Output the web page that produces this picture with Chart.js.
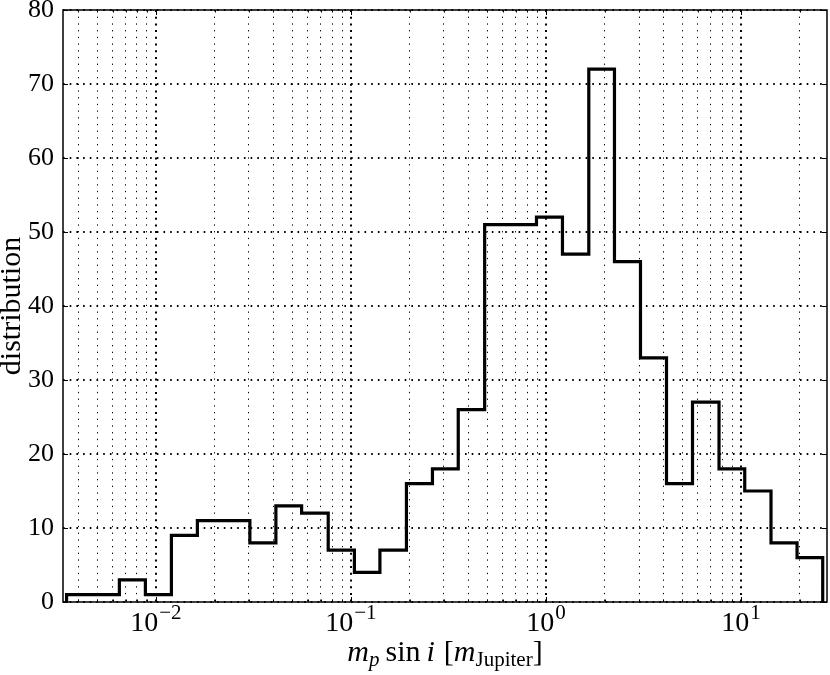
<!DOCTYPE html>
<html>
<head>
<meta charset="utf-8">
<script src="https://cdn.jsdelivr.net/npm/chart.js@4.4.1/dist/chart.umd.min.js"></script>
<style>
  body { margin: 0; background: #fff; }
  #wrap { width: 830px; height: 675px; }
</style>
</head>
<body>
<div id="wrap"><canvas id="grafica" width="830" height="675"></canvas></div>
<script>
// Bin edges of the histogram (m_p sin i, in Jupiter masses)
const binEdges = [0.003484, 0.004741, 0.006498, 0.008834, 0.01201, 0.01632, 0.02227, 0.03033,
    0.04124, 0.05587, 0.07648, 0.1042, 0.1408, 0.1926, 0.2618, 0.3550, 0.4849, 0.6576,
    0.8940, 1.215, 1.658, 2.245, 3.052, 4.150, 5.640, 7.714, 10.45, 14.25, 19.38, 26.24];

// Counts per bin
const counts = [1, 1, 3, 1, 9, 11, 11, 8, 13, 12, 7, 4, 7, 16, 18, 26, 51, 51,
    52, 47, 72, 46, 33, 16, 27, 18, 15, 8, 6];

// Axis limits and tick labels
const xMin = 0.00334;
const xMax = 27.6;
const decadeExps = [-2, -1, 0, 1];
const yTicks = [0, 10, 20, 30, 40, 50, 60, 70, 80];

const serif = '"Liberation Serif", "Times New Roman", serif';

function isDecade(v) {
    const l = Math.log10(v);
    return Math.abs(l - Math.round(l)) < 1e-6;
}

// Points for a stepped line: value holds until the next edge
function stepPoints() {
    const pts = [{ x: binEdges[0], y: 0 }];
    counts.forEach((c, i) => pts.push({ x: binEdges[i], y: c }));
    pts.push({ x: binEdges[binEdges.length - 1], y: 0 });
    return pts;
}

// Frame, inward ticks, x tick labels and x title
const marcPlugin = {
    id: 'marc',
    afterDraw(chart) {
        const { ctx, chartArea: a, scales } = chart;
        ctx.save();
        ctx.strokeStyle = '#000';
        ctx.fillStyle = '#000';

        ctx.lineWidth = 1;
        ctx.beginPath();
        scales.y.ticks.forEach(t => {
            const y = Math.round(scales.y.getPixelForValue(t.value)) + 0.5;
            ctx.moveTo(a.left, y); ctx.lineTo(a.left + 5, y);
            ctx.moveTo(a.right, y); ctx.lineTo(a.right - 5, y);
        });
        scales.x.ticks.forEach(t => {
            const x = Math.round(scales.x.getPixelForValue(t.value)) + 0.5;
            const len = isDecade(t.value) ? 5 : 2.5;
            ctx.moveTo(x, a.bottom); ctx.lineTo(x, a.bottom - len);
            ctx.moveTo(x, a.top); ctx.lineTo(x, a.top + len);
        });
        ctx.stroke();

        ctx.lineWidth = 1.5;
        ctx.strokeRect(a.left, a.top, a.right - a.left, a.bottom - a.top);

        // tick labels 10^k
        ctx.textBaseline = 'alphabetic';
        ctx.textAlign = 'left';
        decadeExps.forEach(e => {
            const x = scales.x.getPixelForValue(Math.pow(10, e));
            const exp = e < 0 ? '\u2212' + (-e) : String(e);
            ctx.font = '28px ' + serif;
            const w1 = ctx.measureText('10').width;
            ctx.font = '21px ' + serif;
            const w2 = ctx.measureText(exp).width;
            const x0 = x - (w1 + w2 + 1) / 2;
            ctx.font = '28px ' + serif;
            ctx.fillText('10', x0, 631);
            ctx.font = '21px ' + serif;
            ctx.fillText(exp, x0 + w1 + 1, 619);
        });

        // x title: m_p sin i [m_Jupiter]
        const parts = [
            { t: 'm', f: 'italic 30px ', dy: 0 },
            { t: 'p', f: 'italic 21px ', dy: 5, gap: 6 },
            { t: 'sin', f: '30px ', dy: 0, gap: 6 },
            { t: 'i', f: 'italic 30px ', dy: 0, gap: 9 },
            { t: '[', f: '30px ', dy: 0 },
            { t: 'm', f: 'italic 30px ', dy: 0 },
            { t: 'Jupiter', f: '21px ', dy: 5 },
            { t: ']', f: '30px ', dy: 0 }
        ];
        let total = 0;
        parts.forEach(p => {
            ctx.font = p.f + serif;
            p.w = ctx.measureText(p.t).width;
            total += p.w + (p.gap || 0);
        });
        let x = (a.left + a.right) / 2 - total / 2;
        parts.forEach(p => {
            ctx.font = p.f + serif;
            ctx.fillText(p.t, x, 661 + p.dy);
            x += p.w + (p.gap || 0);
        });
        ctx.restore();
    }
};

function crearGrafica() {
    const ctx = document.getElementById('grafica').getContext('2d');
    new Chart(ctx, {
        type: 'line',
        data: {
            datasets: [{
                data: stepPoints(),
                stepped: true,
                borderColor: '#000',
                borderWidth: 3.2,
                borderJoinStyle: 'miter',
                borderCapStyle: 'butt',
                pointRadius: 0,
                fill: false
            }]
        },
        options: {
            responsive: false,
            animation: false,
            layout: { padding: { top: 10, right: 3, left: 0, bottom: 0 } },
            plugins: { legend: { display: false }, tooltip: { enabled: false } },
            scales: {
                x: {
                    type: 'logarithmic',
                    min: xMin,
                    max: xMax,
                    afterBuildTicks: s => {
                        const t = [];
                        for (let e = decadeExps[0] - 1; e <= decadeExps[decadeExps.length - 1]; e++) {
                            for (let m = 1; m <= 9; m++) {
                                const v = m * Math.pow(10, e);
                                if (v >= s.min && v <= s.max) t.push({ value: v });
                            }
                        }
                        s.ticks = t;
                    },
                    afterFit: s => {
                        s.height = 73;
                        s.paddingLeft = 0; s.paddingRight = 0;
                    },
                    ticks: { display: false },
                    grid: {
                        color: '#000',
                        drawTicks: false,
                        lineWidth: c => isDecade(c.tick.value) ? 2 : 1
                    },
                    border: {
                        display: false,
                        dash: c => isDecade(c.tick.value) ? [2, 4.7] : [1.3, 5.4]
                    }
                },
                y: {
                    min: 0,
                    max: 80,
                    afterBuildTicks: s => { s.ticks = yTicks.map(v => ({ value: v })); },
                    afterFit: s => {
                        s.width = 63;
                        s.paddingTop = 0; s.paddingBottom = 0;
                    },
                    ticks: {
                        padding: 9,
                        color: '#000',
                        font: { family: serif, size: 26 }
                    },
                    grid: { color: '#000', drawTicks: false, lineWidth: 2 },
                    border: { display: false, dash: [1.6, 5.1] },
                    title: {
                        display: true,
                        text: 'distribution',
                        color: '#000',
                        padding: 0,
                        font: { family: serif, size: 30, lineHeight: 0.8 }
                    }
                }
            }
        },
        plugins: [marcPlugin]
    });
}

crearGrafica();
</script>
</body>
</html>
